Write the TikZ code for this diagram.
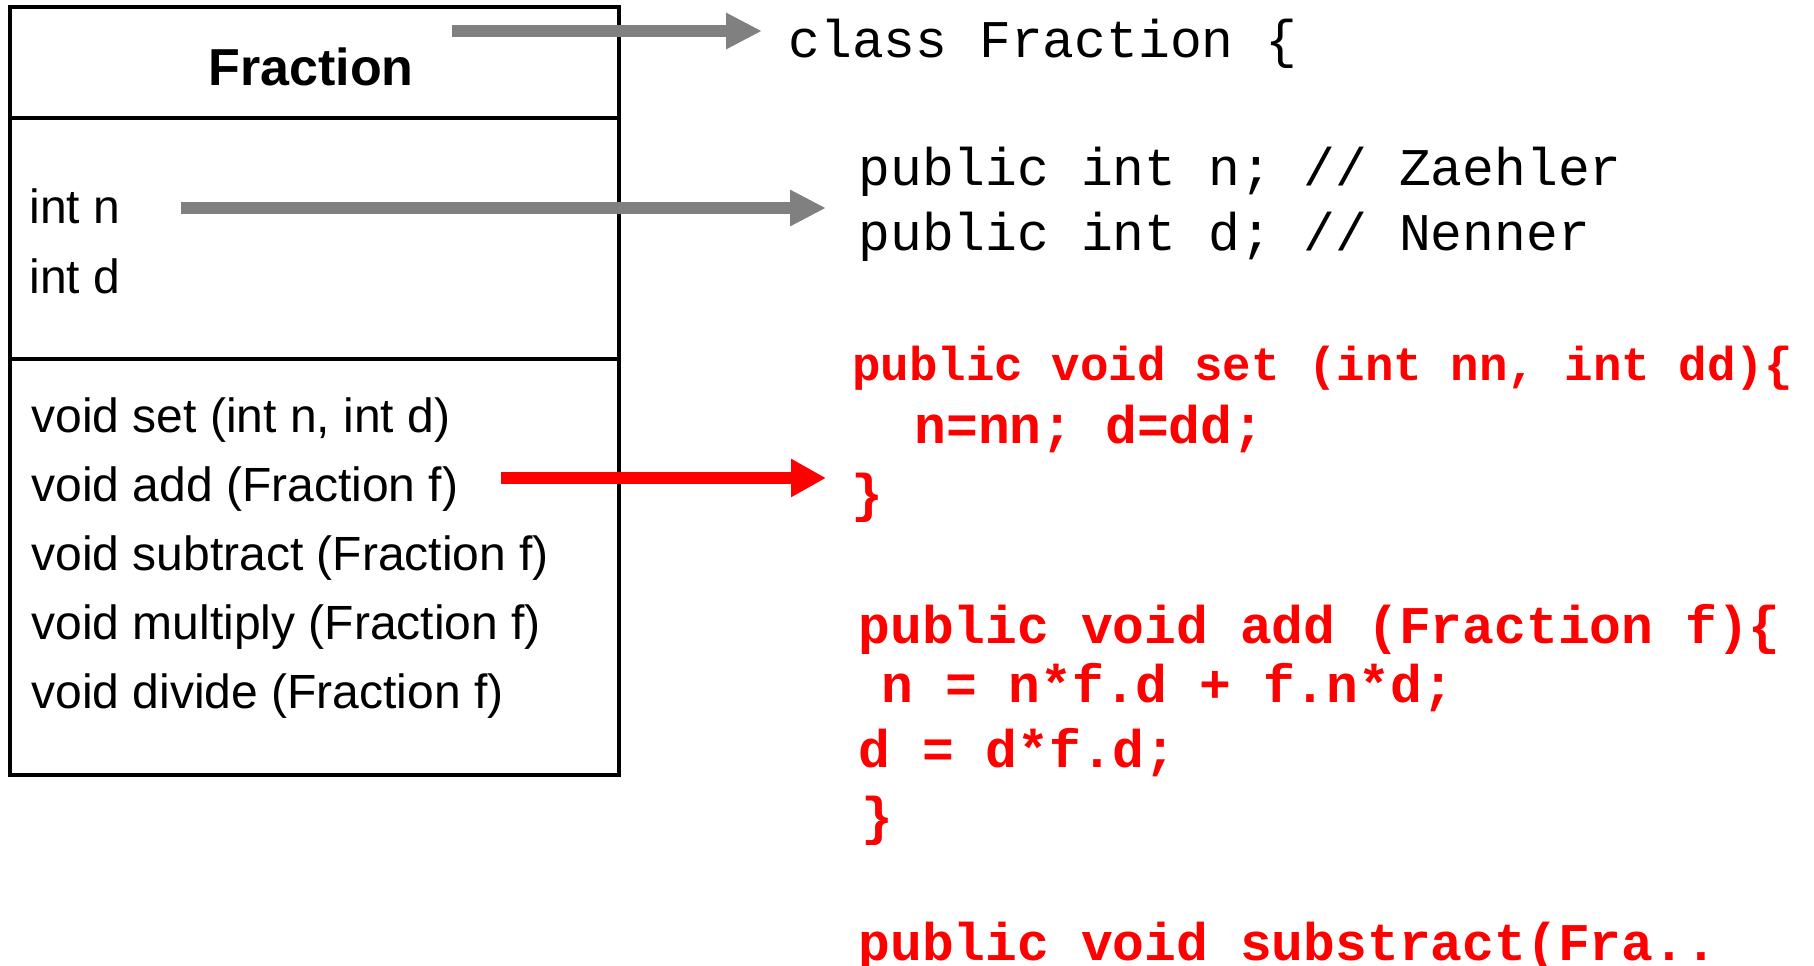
\documentclass[tikz,border=0pt]{standalone}
\usepackage{fontspec}
\setmainfont{Liberation Sans}
\newfontfamily\codefont{Liberation Mono}
\usetikzlibrary{arrows.meta,positioning}
\definecolor{arrowgray}{rgb}{0.5, 0.5, 0.5}
\definecolor{codered}{rgb}{1.0, 0.0, 0.0}

\begin{document}
\begin{tikzpicture}[x=0.5pt,y=-0.5pt,
        box/.style={draw, line width=1.75pt, minimum width=304.5pt, inner sep=0pt},
        uml/.style={anchor=base west, inner sep=0pt, font=\fontsize{24}{28}\selectfont},
        code/.style={anchor=base west, inner sep=0pt, font=\codefont\fontsize{26.5}{30}\selectfont},
        redcode/.style={code, text=codered, font=\codefont\bfseries\fontsize{26.5}{30}\selectfont},
        grayarrow/.style={draw=arrowgray, line width=5.8pt, -{Triangle[length=18pt,width=17pt]}},
        redarrow/.style={draw=codered, line width=5.8pt, -{Triangle[length=17.5pt,width=18pt]}}]

        \useasboundingbox (0,0) rectangle (1814,965);

            % class box
            \node[box, minimum height=55.5pt] (head) at (314.5,62.5) {};
            \node[box, minimum height=120.5pt] (attrs) at (314.5,238.5) {};
            \node[box, minimum height=208pt] (ops) at (314.5,567) {};

            \node[anchor=base, inner sep=0pt, font=\bfseries\fontsize{26}{30}\selectfont] (title) at (311,85) {Fraction};
            \node[uml] (attn) at (29,223) {int n};
            \node[uml] (attd) at (29,293) {int d};
            \node[uml] (opset) at (31,432) {void set (int n, int d)};
            \node[uml] (opadd) at (31,501) {void add (Fraction f)};
            \node[uml] (opsub) at (31,570) {void subtract (Fraction f)};
            \node[uml] (opmul) at (31,639) {void multiply (Fraction f)};
            \node[uml] (opdiv) at (31,708) {void divide (Fraction f)};

            % java code
            \node[code] (cls) at (788,57) {class Fraction \{};
            \node[code] (fldn) at (858,185) {public int n; // Zaehler};
            \node[code] (fldd) at (858,250) {public int d; // Nenner};
            \node[redcode, font=\codefont\bfseries\fontsize{23.75}{28}\selectfont] (setsig) at (852,380) {public void set (int nn, int dd)\{};
            \node[redcode] (setbody) at (914,443) {n=nn; d=dd;};
            \node[redcode] (setend) at (851,511) {\}};
            \node[redcode] (addsig) at (858,643) {public void add (Fraction f)\{};
            \node[redcode] (addn) at (881,702) {n = n*f.d + f.n*d;};
            \node[redcode] (addd) at (858,767) {d = d*f.d;};
            \node[redcode] (addend) at (861,834) {\}};
            \node[redcode] (subsig) at (858,960) {public void substract(Fra..};

            \coordinate (hdtail) at (452,31);
            \coordinate (fldtail) at (181,208);
            \coordinate (optail) at (501,478);

            \draw[grayarrow, shorten >=13pt] (hdtail) -- (hdtail -| cls.west);
            \draw[grayarrow, shorten >=16pt] (fldtail) -- (fldtail -| fldn.west);
            \draw[redarrow, shorten >=13pt] (optail) -- (optail -| setsig.west);

\end{tikzpicture}
\end{document}
